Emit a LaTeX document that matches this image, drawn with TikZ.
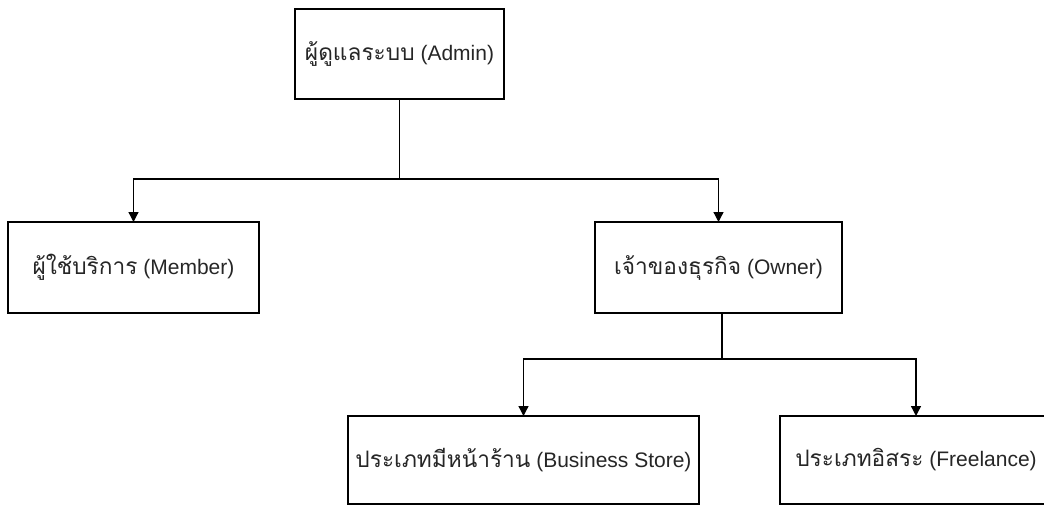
\documentclass[tikz,border=0pt]{standalone}
\usepackage{fontspec}
\setmainfont{Liberation Sans}
\newfontfamily\thai[Script=Thai,Scale=1.08]{Loma}
\usetikzlibrary{arrows.meta}
\begin{document}
\begin{tikzpicture}[x=1pt,y=-1pt,
  box/.style={draw=black,line width=1.3pt,fill=white,inner sep=0pt,outer sep=0pt,
    font=\fontsize{21}{25}\selectfont,text=black!85},
  arr/.style={line width=1.3pt,-{Triangle[length=10pt,width=10pt]}},
  ln/.style={line width=1.3pt}]
\useasboundingbox (0,0) rectangle (1044,506);
\clip (0,0) rectangle (1044,506);
\node[box,minimum width=209pt,minimum height=90pt] (admin) at (399.5,54) {{\thai ผู้ดูแลระบบ} (Admin)};
\node[box,minimum width=251pt,minimum height=91pt] (member) at (133.5,267.5) {{\thai ผู้ใช้บริการ} (Member)};
\node[box,minimum width=247pt,minimum height=91pt] (owner) at (718.5,267.5) {{\thai เจ้าของธุรกิจ} (Owner)};
\node[box,minimum width=351pt,minimum height=88pt] (biz) at (523.5,460) {{\thai ประเภทมีหน้าร้าน} (Business Store)};
\node[box,minimum width=272pt,minimum height=88pt] (free) at (916,460) {{\thai ประเภทอิสระ} (Freelance)};
\coordinate (j1) at (399.5,179);
\coordinate (j2) at (722,359);
\draw[ln] (admin.south) -- (j1);
\draw[arr] (j1) -| (member.north);
\draw[arr] (j1) -| (owner.north);
\draw[ln] ([xshift=3.5pt]owner.south) -- (j2);
\draw[arr] (j2) -| (biz.north);
\draw[arr] (j2) -| (free.north);
\end{tikzpicture}
\end{document}
